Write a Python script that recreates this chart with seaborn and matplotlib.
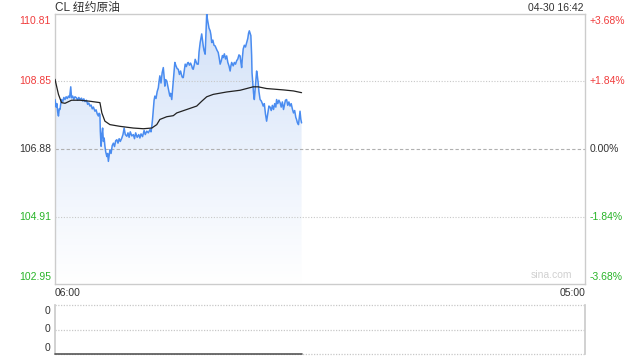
import numpy as np
import pandas as pd
import matplotlib
matplotlib.use("Agg")
import matplotlib.pyplot as plt
from matplotlib.colors import LinearSegmentedColormap
import seaborn as sns

# ---- data (minutes after 06:00, price) ----
price_minutes = [0, 3, 5, 7, 9, 11, 13, 15, 17, 20, 23, 26, 29, 32, 35, 38, 41, 43, 46, 49, 52, 56, 59, 62,
                 65, 69, 72, 75, 78, 82, 85, 88, 91, 94, 97, 100, 104, 107, 110, 113, 115, 117, 118, 120,
                 122, 124, 126, 128, 130, 132, 135, 137, 139, 141, 143, 146, 149, 152, 155, 158, 161, 164,
                 167, 170, 174, 177, 180, 183, 187, 190, 193, 196, 200, 204, 207, 210, 214, 218, 221, 224,
                 228, 232, 235, 239, 243, 247, 250, 252, 254, 256, 258, 260, 263, 266, 269, 271, 273, 276,
                 279, 282, 284, 286, 288, 291, 294, 297, 299, 301, 304, 306, 308, 310, 312, 315, 318, 321,
                 324, 327, 330, 332, 334, 337, 339, 342, 345, 347, 350, 353, 356, 358, 360, 363, 365, 368,
                 370, 373, 375, 378, 380, 382, 384, 386, 388, 391, 393, 395, 397, 399, 401, 404, 406, 408,
                 411, 414, 417, 420, 422, 425, 428, 430, 433, 436, 438, 441, 444, 447, 450, 453, 456, 458,
                 460, 462, 464, 467, 470, 473, 476, 479, 482, 484, 486, 488, 490, 493, 496, 499, 502, 504,
                 506, 508, 510, 512, 513, 515, 517, 519, 521, 523, 525, 527, 529, 531, 534, 537, 540, 542,
                 545, 548, 551, 554, 557, 560, 563, 566, 569, 572, 575, 577, 580, 583, 586, 589, 592, 595,
                 598, 600, 603, 606, 609, 612, 615, 618, 621, 624, 627, 629, 631, 634, 636, 638, 640, 642]
price_values = [108.32, 108.10, 108.20, 107.95, 107.84, 108.05, 108.03, 108.20, 108.32, 108.25, 108.38,
                108.32, 108.40, 108.35, 108.42, 108.38, 108.69, 108.37, 108.42, 108.33, 108.40, 108.37,
                108.30, 108.38, 108.32, 108.36, 108.28, 108.34, 108.26, 108.30, 108.18, 108.22, 108.13,
                108.16, 108.05, 108.10, 107.98, 108.02, 107.90, 107.84, 107.92, 107.88, 107.40, 106.96,
                107.30, 107.49, 107.10, 107.20, 106.96, 106.80, 106.66, 106.75, 106.52, 106.70, 106.86,
                106.75, 106.98, 107.05, 106.95, 107.12, 107.15, 107.05, 107.18, 107.10, 107.20, 107.30,
                107.49, 107.30, 107.25, 107.35, 107.22, 107.38, 107.26, 107.30, 107.18, 107.35, 107.22,
                107.30, 107.20, 107.32, 107.24, 107.42, 107.30, 107.40, 107.35, 107.44, 107.38, 107.54,
                107.75, 108.03, 108.30, 108.42, 108.35, 108.55, 108.66, 108.85, 109.01, 108.80, 109.10,
                109.25, 109.00, 108.71, 108.90, 108.86, 108.70, 108.55, 108.42, 108.50, 108.32, 108.60,
                108.91, 109.15, 109.40, 109.30, 109.22, 109.20, 109.05, 109.15, 109.01, 108.96, 108.96,
                109.20, 109.35, 109.28, 109.38, 109.40, 109.32, 109.38, 109.30, 109.22, 109.20, 109.35,
                109.49, 109.40, 109.35, 109.35, 109.70, 109.98, 110.10, 110.23, 110.05, 109.88, 109.75,
                109.64, 110.20, 110.81, 110.65, 110.52, 110.40, 110.32, 110.20, 109.98, 110.05, 109.90,
                109.88, 109.80, 109.75, 109.69, 109.50, 109.35, 109.45, 109.60, 109.54, 109.65, 109.50,
                109.59, 109.40, 109.30, 109.15, 109.30, 109.40, 109.35, 109.30, 109.40, 109.35, 109.45,
                109.50, 109.62, 109.59, 109.40, 109.25, 109.55, 109.79, 109.90, 109.85, 109.98, 110.10,
                110.25, 110.32, 110.25, 110.18, 109.60, 109.10, 108.81, 108.50, 108.32, 108.60, 108.90,
                109.15, 109.00, 108.81, 108.55, 108.32, 108.28, 108.20, 108.13, 108.20, 107.90, 107.69,
                107.90, 108.13, 108.10, 108.00, 108.15, 108.03, 108.20, 108.10, 108.32, 108.20, 108.30,
                108.23, 108.10, 108.25, 108.03, 108.20, 108.30, 108.32, 108.15, 108.25, 108.13, 108.20,
                108.05, 107.93, 108.00, 107.80, 107.74, 107.65, 107.59, 107.80, 107.98, 107.75, 107.64]

avg_minutes = [0, 9, 17, 26, 43, 65, 91, 117, 122, 130, 143, 169, 204, 230, 252, 265, 273, 291, 308, 317,
               343, 369, 382, 395, 412, 447, 482, 499, 516, 529, 551, 595, 621, 642]
avg_values = [108.91, 108.47, 108.23, 108.21, 108.30, 108.30, 108.27, 108.23, 107.93, 107.69, 107.59,
              107.54, 107.49, 107.47, 107.49, 107.59, 107.74, 107.82, 107.85, 107.93, 108.03, 108.13,
              108.27, 108.40, 108.47, 108.54, 108.59, 108.64, 108.69, 108.69, 108.64, 108.60, 108.57, 108.52]

left_ticks = [110.81, 108.85, 106.88, 104.91, 102.95]
left_labels = ["110.81", "108.85", "106.88", "104.91", "102.95"]
right_labels = ["+3.68%", "+1.84%", "0.00%", "-1.84%", "-3.68%"]
total_minutes = 1380  # 06:00 -> 05:00
volume_ticks = [0, 1, 2]
volume_labels = ["0", "0", "0"]
title_text = "CL 纽约原油"
time_text = "04-30 16:42"
x_labels = ["06:00", "05:00"]

sns.set_theme(style="white")
plt.rcParams['font.family'] = ['Liberation Sans', 'Noto Sans CJK SC', 'DejaVu Sans']

RED = "#f03c3c"
GREEN = "#28b428"
DARK = "#333333"
BORDER = "#cccccc"
label_colors = [RED, RED, DARK, GREEN, GREEN]

fig = plt.figure(figsize=(6.4, 3.6), dpi=100)
ax = fig.add_axes([55/640, 1-284/360, 530/640, 270/360])
axv = fig.add_axes([55/640, 1-354/360, 530/640, 49/360])

df_p = pd.DataFrame({"t": price_minutes, "p": price_values})
df_a = pd.DataFrame({"t": avg_minutes, "p": avg_values})

ymin, ymax = left_ticks[-1], left_ticks[0]
ax.set_xlim(0, total_minutes)
ax.set_ylim(ymin, ymax)

# gradient fill under the price line
poly = ax.fill_between(df_p["t"], df_p["p"], ymin, color="none", lw=0)
grad = np.linspace(0, 1, 256).reshape(-1, 1)
cmap = LinearSegmentedColormap.from_list("g", ["#ffffff", "#eaf1fc", "#d2e1f8"])
im = ax.imshow(grad, extent=[0, max(price_minutes), ymin, ymax], origin="lower",
               aspect="auto", cmap=cmap, zorder=1)
im.set_clip_path(poly.get_paths()[0], transform=ax.transData)

# grid lines (drawn over the fill)
for v in [left_ticks[1], left_ticks[3]]:
    ax.axhline(v, color="#c8c8c8", lw=0.8, ls=(0, (1, 1.5)), zorder=2)
ax.axhline(left_ticks[2], color="#b0b0b0", lw=0.8, ls=(0, (3, 2)), zorder=2)

sns.lineplot(data=df_p, x="t", y="p", ax=ax, color="#4a8cf0", lw=1.1, zorder=3)
sns.lineplot(data=df_a, x="t", y="p", ax=ax, color="#222222", lw=0.9, zorder=4)

ax.set_xticks([]); ax.set_yticks([])
ax.set_xlabel(""); ax.set_ylabel("")
for s in ax.spines.values():
    s.set_color(BORDER); s.set_linewidth(1.0)

# left / right labels
for i, (v, lab, rl, c) in enumerate(zip(left_ticks, left_labels, right_labels, label_colors)):
    va = "top" if i == 0 else ("bottom" if i == len(left_ticks)-1 else "center")
    off = -0.06 if i == 0 else (0.06 if i == len(left_ticks)-1 else 0)
    ax.text(-0.008, v + off, lab, transform=ax.get_yaxis_transform(), ha="right", va=va,
            color=c, fontsize=7.5)
    ax.text(1.008, v + off, rl, transform=ax.get_yaxis_transform(), ha="left", va=va,
            color=c, fontsize=7.5)

fig.text(55/640, 1-7.5/360, title_text, ha="left", va="center", fontsize=8.5, color=DARK)
fig.text(584/640, 1-8/360, time_text, ha="right", va="center", fontsize=7.5, color=DARK)
fig.text(55/640, 1-293/360, x_labels[0], ha="left", va="center", fontsize=7.5, color=DARK)
fig.text(585/640, 1-293/360, x_labels[1], ha="right", va="center", fontsize=7.5, color=DARK)
ax.text(0.975, 0.015, "sina.com", transform=ax.transAxes, ha="right", va="bottom",
        fontsize=7.5, color="#d0d0d0")

# volume panel
axv.set_xlim(0, total_minutes)
axv.set_ylim(0, 2)
for v in volume_ticks:
    axv.axhline(v, color="#c8c8c8", lw=0.9, ls=(0, (1, 1.2)), zorder=1, clip_on=False)
df_v = pd.DataFrame({"t": [0, max(price_minutes)], "v": [0, 0]})
sns.lineplot(data=df_v, x="t", y="v", ax=axv, color="#555555", lw=1.2, zorder=3, clip_on=False)
axv.set_xticks([]); axv.set_yticks([])
axv.set_xlabel(""); axv.set_ylabel("")
axv.spines["top"].set_visible(False)
axv.spines["bottom"].set_visible(False)
axv.spines["left"].set_color(BORDER)
axv.spines["right"].set_color(BORDER)
for i, (v, lab) in enumerate(zip(volume_ticks, volume_labels)):
    va = "bottom" if i == 0 else ("top" if i == len(volume_ticks)-1 else "center")
    off = 0.05 if i == 0 else (-0.05 if i == len(volume_ticks)-1 else 0)
    axv.text(-0.008, v + off, lab, transform=axv.get_yaxis_transform(), ha="right", va=va,
             color=DARK, fontsize=7.5)

fig.savefig("out.png", dpi=100)
